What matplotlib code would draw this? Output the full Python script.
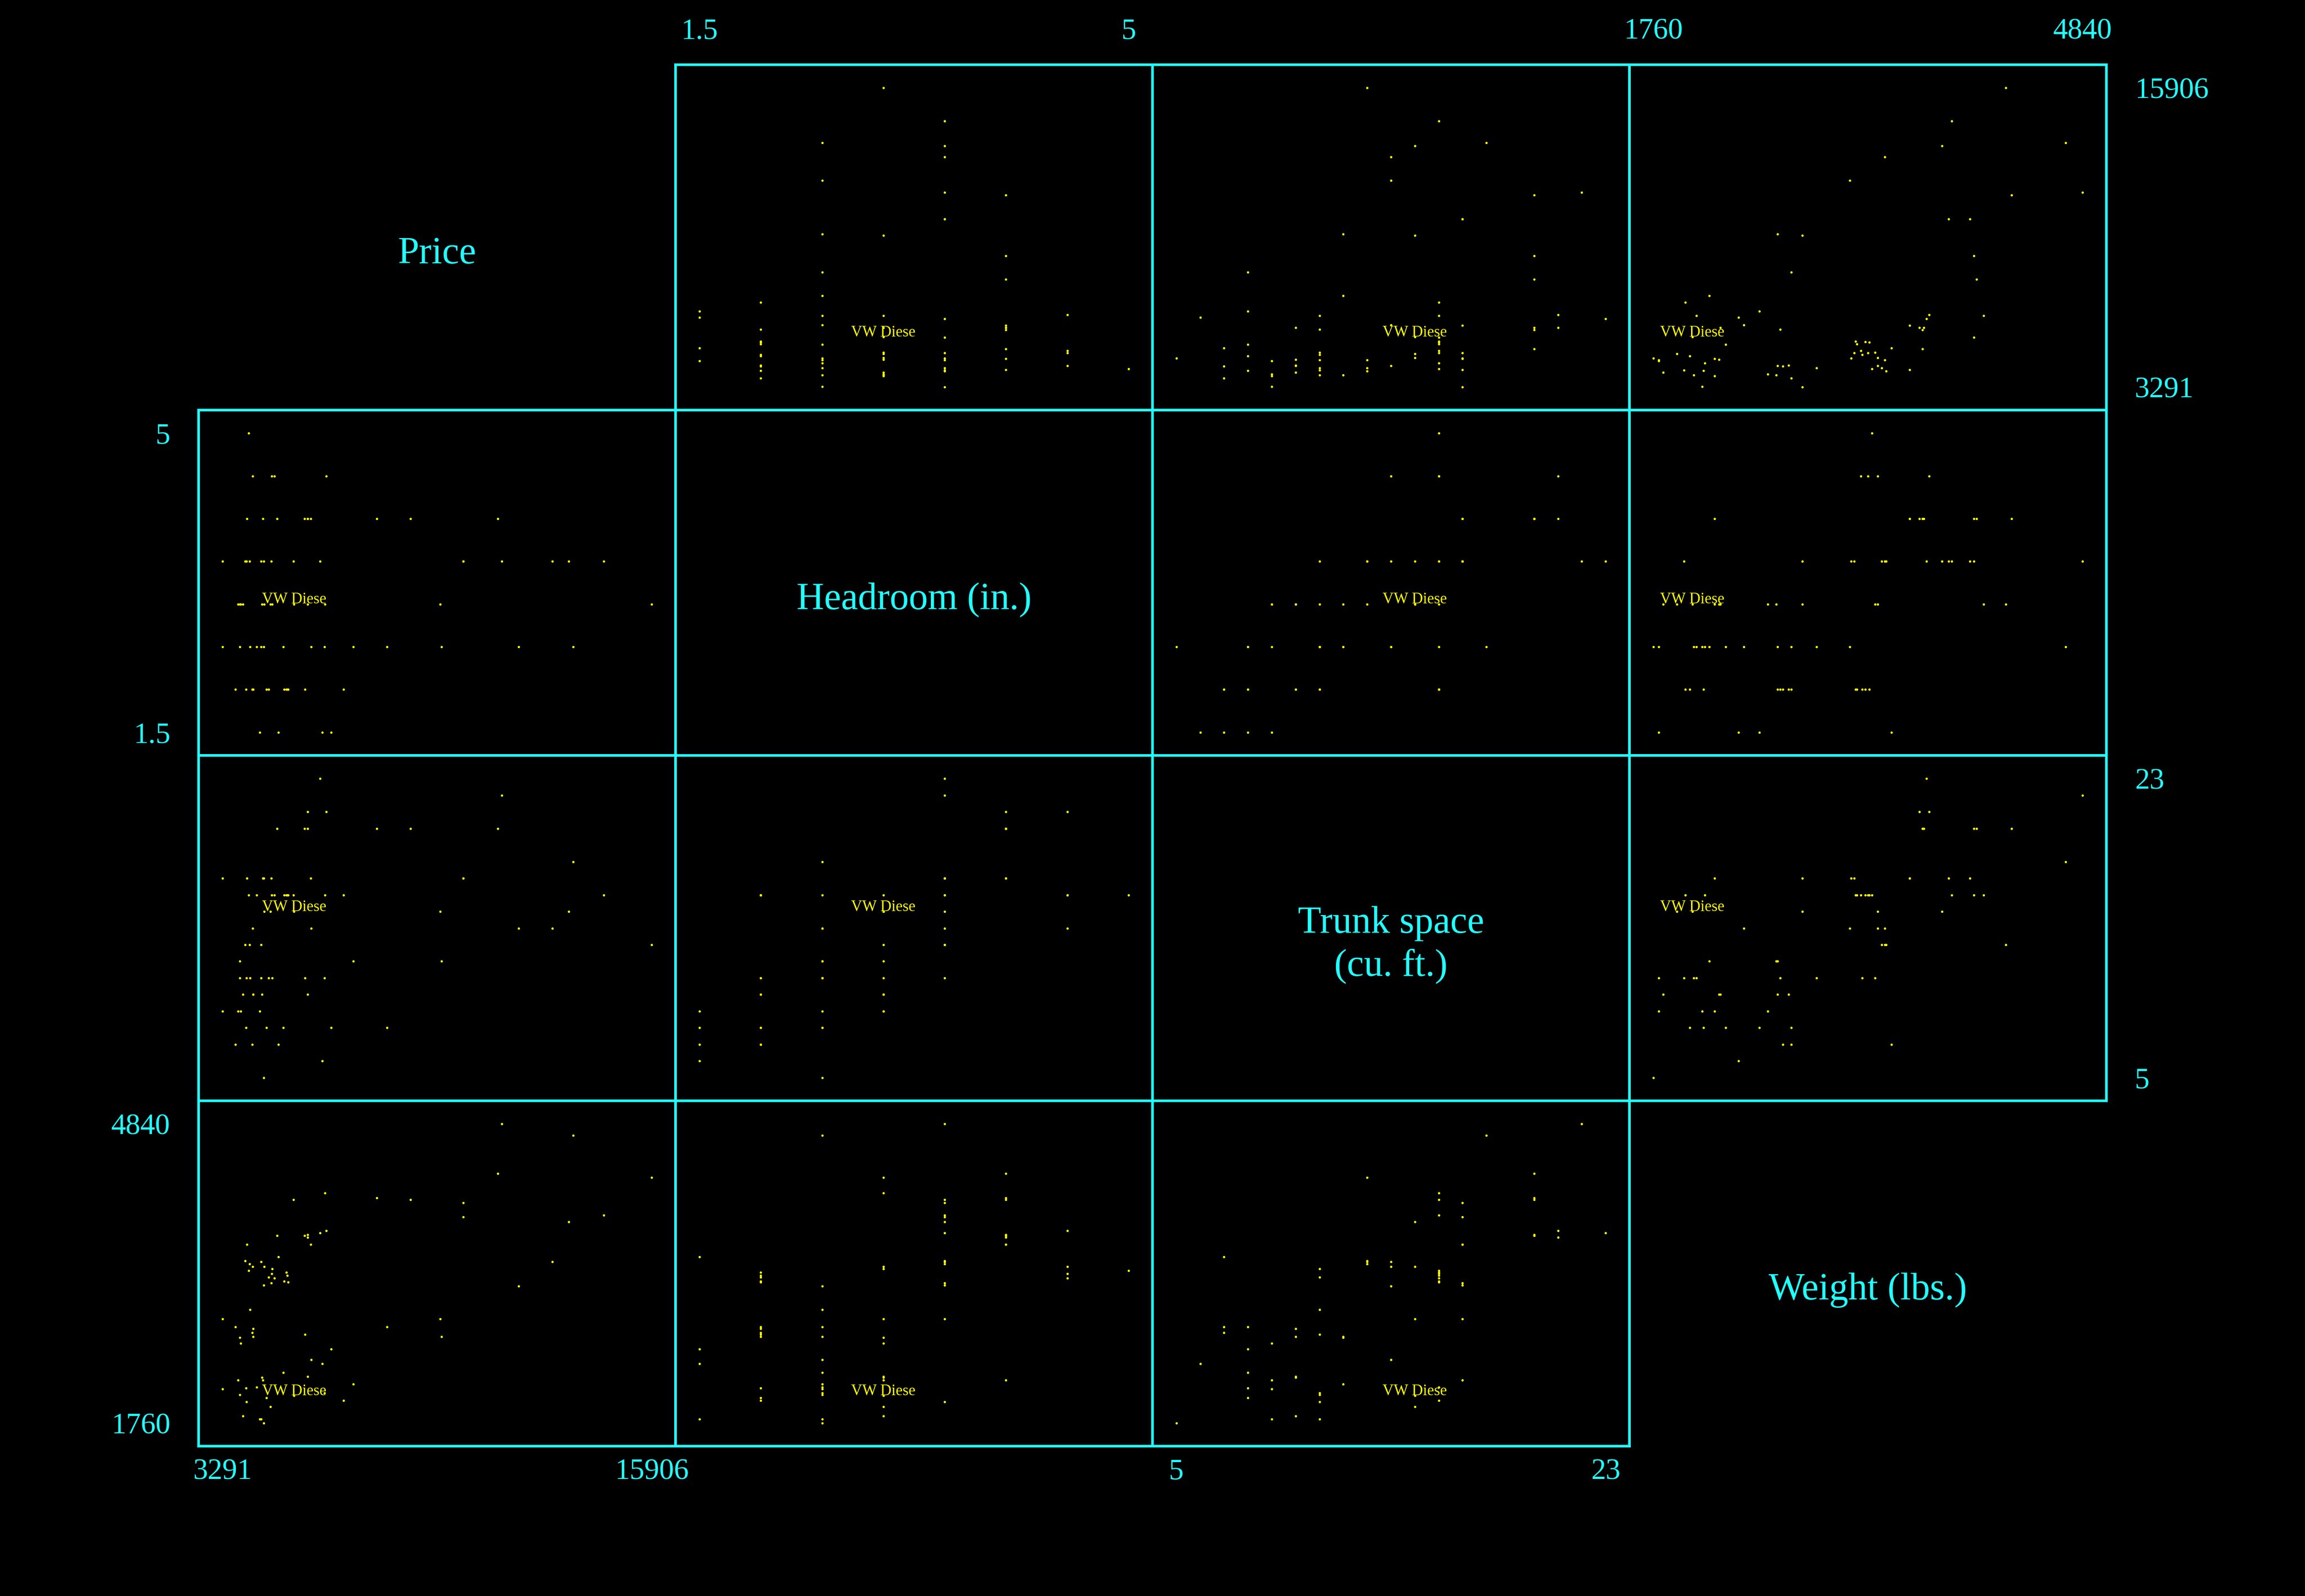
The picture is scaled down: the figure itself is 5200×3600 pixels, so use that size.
import numpy as np
import matplotlib.pyplot as plt

# 1978 automobile data (74 cars)
make = ["AMC Concord", "AMC Pacer", "AMC Spirit", "Buick Century", "Buick Electra",
        "Buick LeSabre", "Buick Opel", "Buick Regal", "Buick Riviera", "Buick Skylark",
        "Cad. Deville", "Cad. Eldorado", "Cad. Seville", "Chev. Chevette", "Chev. Impala",
        "Chev. Malibu", "Chev. Monte Carlo", "Chev. Monza", "Chev. Nova", "Dodge Colt",
        "Dodge Diplomat", "Dodge Magnum", "Dodge St. Regis", "Ford Fiesta", "Ford Mustang",
        "Linc. Continental", "Linc. Mark V", "Linc. Versailles", "Merc. Bobcat", "Merc. Cougar",
        "Merc. Marquis", "Merc. Monarch", "Merc. XR-7", "Merc. Zephyr", "Olds 98",
        "Olds Cutl Supr", "Olds Cutlass", "Olds Delta 88", "Olds Omega", "Olds Starfire",
        "Olds Toronado", "Plym. Arrow", "Plym. Champ", "Plym. Horizon", "Plym. Sapporo",
        "Plym. Volare", "Pont. Catalina", "Pont. Firebird", "Pont. Grand Prix", "Pont. Le Mans",
        "Pont. Phoenix", "Pont. Sunbird", "Audi 5000", "Audi Fox", "BMW 320i",
        "Datsun 200", "Datsun 210", "Datsun 510", "Datsun 810", "Fiat Strada",
        "Honda Accord", "Honda Civic", "Mazda GLC", "Peugeot 604", "Renault Le Car",
        "Subaru", "Toyota Celica", "Toyota Corolla", "Toyota Corona", "VW Dasher",
        "VW Diesel", "VW Rabbit", "VW Scirocco", "Volvo 260"]

price = [4099, 4749, 3799, 4816, 7827, 5788, 4453, 5189, 10372, 4082,
         11385, 14500, 15906, 3299, 5705, 4504, 5104, 3667, 3955, 3984,
         4010, 5886, 6342, 4389, 4187, 11497, 13594, 13466, 3829, 5379,
         6165, 4516, 6303, 3291, 8814, 5172, 4733, 4890, 4181, 4195,
         10371, 4647, 4425, 4482, 6486, 4060, 5798, 4934, 5222, 4723,
         4424, 4172, 9690, 6295, 9735, 6229, 4589, 5079, 8129, 4296,
         5799, 4499, 3995, 12990, 3895, 3798, 5899, 3748, 5719, 7140,
         5397, 4697, 6850, 11995]

headroom = [2.5, 3.0, 3.0, 4.5, 4.0, 4.0, 3.0, 2.0, 3.5, 3.5,
            4.0, 3.5, 3.0, 2.5, 4.0, 3.5, 2.0, 2.0, 3.5, 2.0,
            4.0, 4.0, 4.5, 1.5, 2.0, 3.5, 2.5, 3.5, 3.0, 3.5,
            3.5, 3.0, 3.0, 3.5, 4.0, 2.0, 4.5, 4.0, 4.5, 2.0,
            3.5, 2.0, 2.5, 4.0, 1.5, 5.0, 4.0, 1.5, 2.0, 3.5,
            3.5, 2.0, 3.0, 2.5, 2.5, 1.5, 2.0, 2.5, 2.5, 2.5,
            3.0, 2.5, 3.5, 3.5, 3.0, 2.5, 2.5, 3.0, 2.0, 2.5,
            3.0, 3.0, 2.0, 2.5]

trunk = [11, 11, 12, 16, 20, 21, 10, 16, 17, 13,
         20, 16, 13, 9, 20, 17, 16, 7, 13, 8,
         17, 17, 21, 9, 10, 22, 18, 15, 9, 16,
         23, 15, 16, 17, 20, 16, 16, 20, 14, 10,
         17, 11, 11, 17, 8, 16, 20, 7, 16, 17,
         13, 7, 15, 11, 12, 6, 8, 8, 8, 16,
         10, 5, 11, 14, 10, 11, 14, 9, 11, 12,
         15, 15, 16, 14]

weight = [2930, 3350, 2640, 3250, 4080, 3670, 2230, 3280, 3880, 3400,
          4330, 3900, 4290, 2110, 3690, 3180, 3220, 2750, 3430, 2120,
          3600, 3600, 3740, 1800, 2650, 4840, 4720, 3830, 2580, 4060,
          3720, 3370, 4130, 2830, 4060, 3310, 3300, 3690, 3370, 2730,
          4030, 3260, 1800, 2200, 2520, 3330, 3700, 3470, 3210, 3200,
          3420, 2690, 2830, 2070, 2650, 2370, 2020, 2280, 2750, 2130,
          2240, 1760, 1980, 3420, 1830, 2050, 2410, 2200, 2670, 2160,
          2040, 1930, 1990, 3170]

var_labels = ["Price", "Headroom (in.)", "Trunk space\n(cu. ft.)", "Weight (lbs.)"]
labelled_car = "VW Diesel"
car_label = "VW Diese"   # label as stored (8 characters)

CYAN = "#22FFFF"
YELLOW = "#FFFF00"
FONT = "Liberation Serif"

data = [np.asarray(v, dtype=float) for v in (price, headroom, trunk, weight)]
k = len(data)
lab_idx = make.index(labelled_car)

W, H = 5200, 3600
fig = plt.figure(figsize=(26, 18), dpi=200, facecolor="black")

# grid geometry in pixels
x_left, y_top = 448, 146
cw, ch = 1076, 779

for i in range(k):
    for j in range(k):
        rect = [(x_left + j * cw) / W, 1 - (y_top + (i + 1) * ch) / H, cw / W, ch / H]
        ax = fig.add_axes(rect)
        ax.set_facecolor("black")

        if i == j:
            ax.axis("off")
            ax.text(0.5, 0.5 - 0.049, var_labels[i], transform=ax.transAxes,
                    ha="center", va="center", color=CYAN, fontsize=31,
                    family=FONT, linespacing=1.27, multialignment="center")
            continue

        xv, yv = data[j], data[i]
        ax.scatter(xv, yv, s=3.5, color=YELLOW, linewidths=0, zorder=2)
        ax.annotate(car_label, (xv[lab_idx], yv[lab_idx]), xytext=(0, 3.5),
                    textcoords="offset points", color=YELLOW, fontsize=12.5,
                    family=FONT, ha="center", va="center", zorder=3)

        rx = xv.max() - xv.min()
        ry = yv.max() - yv.min()
        ax.set_xlim(xv.min() - 0.0556 * rx, xv.max() + 0.0556 * rx)
        ax.set_ylim(yv.min() - 0.0774 * ry, yv.max() + 0.0774 * ry)

        for sp in ax.spines.values():
            sp.set_color(CYAN)
            sp.set_linewidth(2.1)
            sp.set_zorder(4)

        # min / max labels, alternating sides like a scatter matrix
        show_top = (i == 0 and j % 2 == 1)
        show_bottom = (i == k - 1 and j % 2 == 0)
        show_left = (j == 0 and i % 2 == 1)
        show_right = (j == k - 1 and i % 2 == 0)

        if show_top or show_bottom:
            ax.set_xticks([xv.min(), xv.max()])
            ax.set_xticklabels([f"{xv.min():g}", f"{xv.max():g}"])
            ax.tick_params(axis="x", length=0, colors=CYAN, labelsize=24,
                           top=False, bottom=False,
                           labeltop=show_top, labelbottom=show_bottom,
                           pad=16 if show_top else 10)
        else:
            ax.set_xticks([])

        if show_left or show_right:
            ax.set_yticks([yv.min(), yv.max()])
            ax.set_yticklabels([f"{yv.min():g}", f"{yv.max():g}"])
            ax.tick_params(axis="y", length=0, colors=CYAN, labelsize=24,
                           left=False, right=False,
                           labelleft=show_left, labelright=show_right, pad=23)
        else:
            ax.set_yticks([])

        for t in ax.get_xticklabels() + ax.get_yticklabels():
            t.set_family(FONT)

fig.savefig("out.png", dpi=200, facecolor="black")
